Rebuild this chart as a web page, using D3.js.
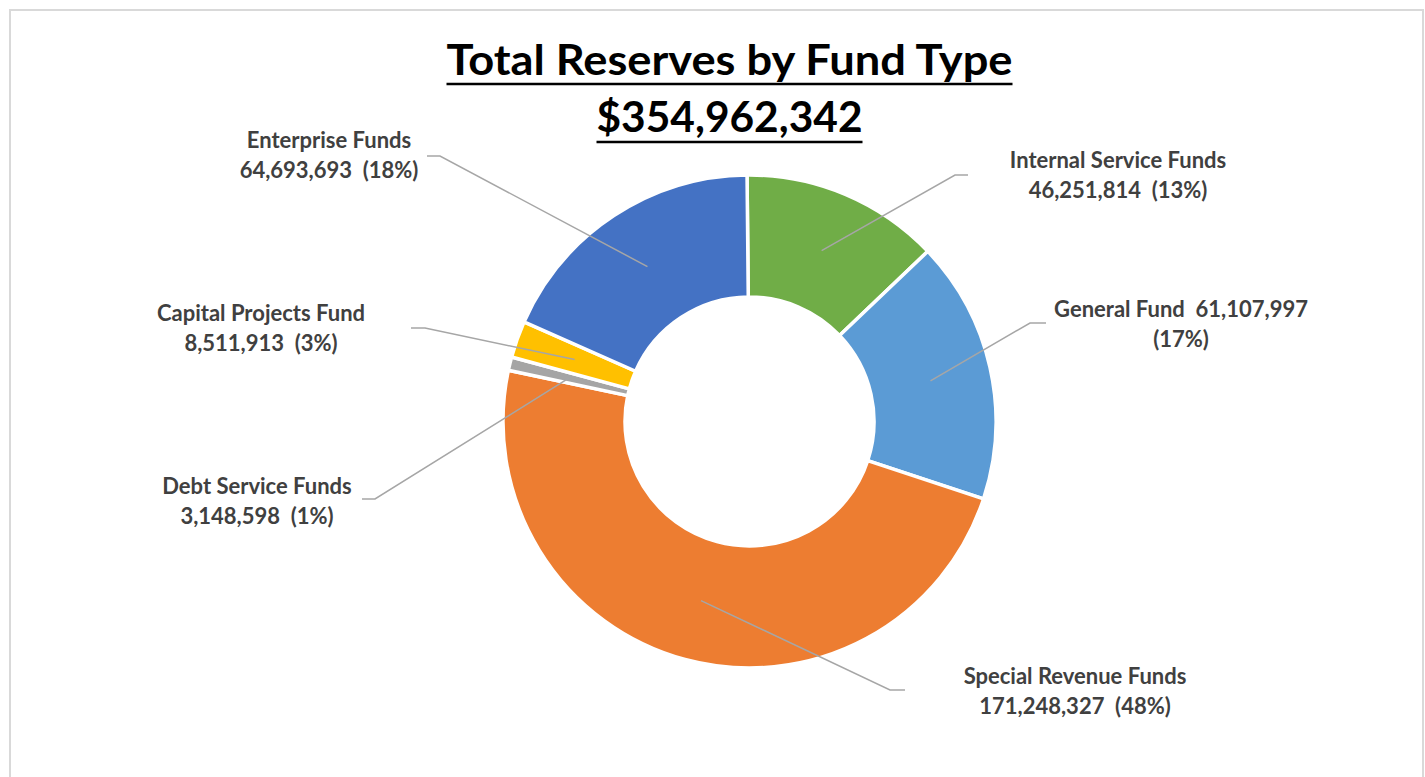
<!DOCTYPE html>
<html>
<head>
<meta charset="utf-8">
<script src="https://cdn.jsdelivr.net/npm/d3@7/dist/d3.min.js"></script>
<style>
  html, body { margin: 0; padding: 0; background: #ffffff; }
  svg { display: block; }
  text { font-family: Lato, "Open Sans", sans-serif; font-weight: 700; }
</style>
</head>
<body>
<svg id="chart" width="1425" height="777"></svg>
<script>
// Fund categories, clockwise from 12 o'clock
const categories = [
  "Internal Service Funds",
  "General Fund",
  "Special Revenue Funds",
  "Debt Service Funds",
  "Capital Projects Fund",
  "Enterprise Funds"
];
const reserves = [46251814, 61107997, 171248327, 3148598, 8511913, 64693693];
const sliceColors = ["#70ad47", "#5b9bd5", "#ed7d31", "#a5a5a5", "#ffc000", "#4472c4"];
const titleText = "Total Reserves by Fund Type";

// Label placement: anchor (centre x, first baseline y), elbow of leader line, end of leader line
const labelLayout = {
  "Internal Service Funds": { x: 1118, y: 168, elbow: [955, 175], end: [968, 175], lines: "two" },
  "General Fund":           { x: 1181, y: 317, elbow: [1030, 323], end: [1046, 323], lines: "nameValue" },
  "Special Revenue Funds":  { x: 1075, y: 684, elbow: [890, 690], end: [905, 690], lines: "two" },
  "Debt Service Funds":     { x: 257,  y: 494, elbow: [375, 499], end: [362, 499], lines: "two" },
  "Capital Projects Fund":  { x: 261,  y: 321, elbow: [425, 328], end: [411, 328], lines: "two" },
  "Enterprise Funds":       { x: 329,  y: 148, elbow: [440, 156], end: [427, 156], lines: "two" }
};

const W = 1425, H = 777;
const cx = 749.5, cy = 421.5;
const outerR = 246.5, innerR = 124.5;
const lineGap = 30;

const svg = d3.select("#chart");

// Chart frame
svg.append("rect")
  .attr("x", 10).attr("y", 10)
  .attr("width", 1413).attr("height", 800)
  .attr("fill", "#ffffff")
  .attr("stroke", "#d9d9d9")
  .attr("stroke-width", 2);

const total = d3.sum(reserves);
const fmt = d3.format(",");
const data = categories.map((c, i) => ({ name: c, value: reserves[i], color: sliceColors[i] }));

// Whole-number percentages that add up to 100 (largest remainder)
const rawPct = reserves.map(v => v / total * 100);
const pctInt = rawPct.map(Math.floor);
let leftover = 100 - d3.sum(pctInt);
d3.range(rawPct.length)
  .sort((a, b) => (rawPct[b] - pctInt[b]) - (rawPct[a] - pctInt[a]))
  .forEach(i => { if (leftover > 0) { pctInt[i] += 1; leftover -= 1; } });
data.forEach((d, i) => { d.pct = pctInt[i]; });

const pie = d3.pie()
  .value(d => d.value)
  .sort(null)
  .startAngle(-0.01)
  .endAngle(2 * Math.PI - 0.01);

const arc = d3.arc().innerRadius(innerR).outerRadius(outerR);
const arcs = pie(data);

const g = svg.append("g").attr("transform", `translate(${cx},${cy})`);

g.selectAll("path.slice")
  .data(arcs)
  .join("path")
  .attr("class", "slice")
  .attr("d", arc)
  .attr("fill", d => d.data.color)
  .attr("stroke", "#ffffff")
  .attr("stroke-width", 3.5)
  .attr("stroke-linejoin", "round");

// Leader lines from slice centroid to label
const leaders = svg.append("g");
arcs.forEach(a => {
  const lay = labelLayout[a.data.name];
  const c = arc.centroid(a);
  const pts = [[cx + c[0], cy + c[1]], lay.elbow, lay.end];
  leaders.append("path")
    .attr("d", d3.line()(pts))
    .attr("fill", "none")
    .attr("stroke", "#a6a6a6")
    .attr("stroke-width", 1.5);
});

// Data labels
const labels = svg.append("g");
arcs.forEach(a => {
  const lay = labelLayout[a.data.name];
  const pct = a.data.pct + "%";
  const valueStr = fmt(a.data.value);
  let rows;
  if (lay.lines === "nameValue") {
    rows = [a.data.name + "\u00a0\u00a0" + valueStr, "(" + pct + ")"];
  } else {
    rows = [a.data.name, valueStr + "\u00a0\u00a0(" + pct + ")"];
  }
  rows.forEach((r, i) => {
    labels.append("text")
      .attr("x", lay.x)
      .attr("y", lay.y + i * lineGap)
      .attr("text-anchor", "middle")
      .attr("fill", "#404040")
      .attr("font-size", 22)
      .text(r);
  });
});

// Title with underline
function underlinedTitle(str, y, size, ulY, target) {
  const t = svg.append("text")
    .attr("x", W / 2 + 17)
    .attr("y", y)
    .attr("text-anchor", "middle")
    .attr("fill", "#000000")
    .attr("font-size", size)
    .text(str);
  t.attr("textLength", target).attr("lengthAdjust", "spacingAndGlyphs");
  const bb = t.node().getBBox();
  svg.append("line")
    .attr("x1", bb.x).attr("x2", bb.x + bb.width)
    .attr("y1", ulY).attr("y2", ulY)
    .attr("stroke", "#000000")
    .attr("stroke-width", 2.5);
}
underlinedTitle(titleText, 75, 42, 84, 566);
underlinedTitle("$" + fmt(total), 132, 42, 142, 266);
</script>
</body>
</html>
